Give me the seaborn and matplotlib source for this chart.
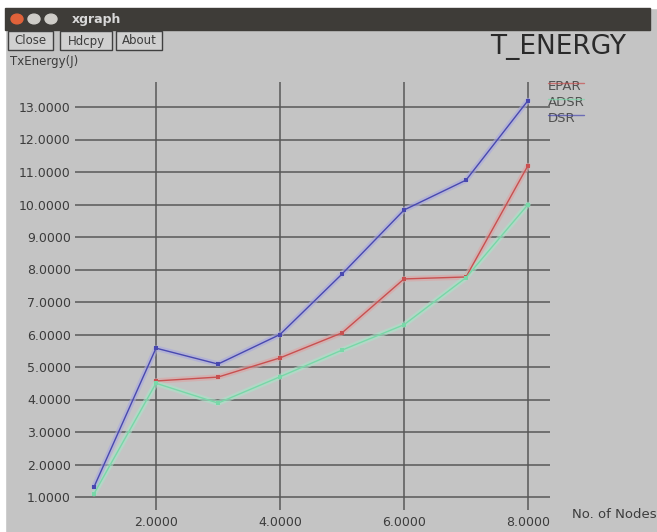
"""
xgraph-style T_ENERGY plot: energy vs number of nodes for EPAR, ADSR, DSR.
"""
import numpy as np
import pandas as pd
import matplotlib
matplotlib.use("Agg")
import matplotlib.pyplot as plt
from matplotlib.patches import Rectangle, Circle
from matplotlib.lines import Line2D
import seaborn as sns

# data
nodes = [1, 2, 3, 4, 5, 6, 7, 8]
epar = [None, 4.57, 4.69, 5.28, 6.05, 7.71, 7.77, 11.2]
adsr = [1.1, 4.5, 3.89, 4.7, 5.52, 6.3, 7.75, 10.0]
dsr = [1.31, 5.58, 5.09, 6.0, 7.86, 9.83, 10.75, 13.2]
series_names = ["EPAR", "ADSR", "DSR"]
y_ticks = [1, 2, 3, 4, 5, 6, 7, 8, 9, 10, 11, 12, 13]
x_ticks = [2, 4, 6, 8]

W, H = 657, 532
BG = "#c4c4c4"
GRID = "#585858"
TXT = "#3c3c3c"
line_colors = {"EPAR": "#c85050", "ADSR": "#78d8a8", "DSR": "#4848b0"}
halo_colors = {"EPAR": "#dca4a4", "ADSR": "#a8e4c8", "DSR": "#a8a8e0"}


def fx(px):
    return px / W


def fy(py):
    return 1 - py / H


rows = []
for name, vals in zip(series_names, [epar, adsr, dsr]):
    for n, v in zip(nodes, vals):
        if v is not None:
            rows.append({"nodes": n, "energy": v, "series": name})
df = pd.DataFrame(rows)

sns.set_style("white")
plt.rcParams["font.family"] = ["DejaVu Sans"]

fig = plt.figure(figsize=(W / 100, H / 100), dpi=100)
fig.patch.set_facecolor(BG)

# window chrome: white page strip, dark title bar
fig.add_artist(Rectangle((0, fy(8)), 1, 8 / H, transform=fig.transFigure,
                         color="white", zorder=0))
fig.add_artist(Rectangle((0, 0), fx(5), 1, transform=fig.transFigure,
                         color="white", zorder=0))
fig.add_artist(Rectangle((fx(5), fy(30)), fx(645), 22 / H, transform=fig.transFigure,
                         color="#3e3c38", zorder=1))
for cx, col in [(17, "#e0623a"), (34, "#cfcdc8"), (51, "#cfcdc8")]:
    fig.add_artist(Circle((fx(cx), fy(19)), 6 / W, transform=fig.transFigure,
                          color=col, zorder=2))
fig.text(fx(72), fy(19), "xgraph", color="#d8d8d8", fontsize=9,
         fontweight="bold", va="center", ha="left")

# buttons
for label, x0, x1 in [("Close", 8, 53), ("Hdcpy", 60, 112), ("About", 116, 162)]:
    fig.add_artist(Rectangle((fx(x0), fy(50)), fx(x1 - x0), 19 / H,
                             transform=fig.transFigure, facecolor="#d0d0d0",
                             edgecolor="#404040", lw=1, zorder=2))
    fig.text(fx((x0 + x1) / 2), fy(41), label, fontsize=8.5, color=TXT,
             ha="center", va="center", zorder=3)

fig.text(fx(10), fy(62), "TxEnergy(J)", fontsize=8.5, color=TXT,
         ha="left", va="center")
fig.text(fx(626), fy(47), "T_ENERGY", fontsize=19, color="#2a2a2a",
         ha="right", va="center")

# plot area
ax = fig.add_axes([fx(75), fy(510), fx(475), (510 - 82) / H])
ax.set_facecolor(BG)
ax.set_axisbelow(True)

palette_halo = [halo_colors[s] for s in series_names]
palette_line = [line_colors[s] for s in series_names]
sns.lineplot(data=df, x="nodes", y="energy", hue="series",
             hue_order=series_names, palette=palette_halo, lw=4, alpha=0.6,
             legend=False, ax=ax, zorder=2)
sns.lineplot(data=df, x="nodes", y="energy", hue="series",
             hue_order=series_names, palette=palette_line, lw=1,
             marker="s", markersize=3.5, markeredgewidth=0,
             legend=False, ax=ax, zorder=3)

x0 = 1 + (75 - 94) / 62
x1 = 1 + (550 - 94) / 62
ax.set_xlim(x0, x1)
ax.set_ylim(1 - 13 / 32.5, 1 + (497 - 82) / 32.5)
ax.set_xticks(x_ticks)
ax.set_yticks(y_ticks)
ax.set_xticklabels([f"{v:.4f}" for v in x_ticks], fontsize=9, color=TXT)
ax.set_yticklabels([f"{v:.4f}" for v in y_ticks], fontsize=9, color=TXT)
ax.tick_params(axis="both", length=0)
ax.tick_params(axis="y", pad=3)
ax.tick_params(axis="x", pad=4)
ax.grid(True, color=GRID, lw=1.1)
ax.set_xlabel("")
ax.set_ylabel("")
for s in ax.spines.values():
    s.set_visible(False)

fig.text(fx(572), fy(514), "No. of Nodes", fontsize=9.5, color=TXT,
         ha="left", va="center")

# xgraph legend: label with a short coloured line across its top
for i, name in enumerate(series_names):
    yc = 87 + i * 16
    fig.text(fx(548), fy(yc), name, fontsize=9.5, color="#505050",
             ha="left", va="center", zorder=4)
    fig.add_artist(Line2D([fx(548), fx(584)], [fy(yc - 4), fy(yc - 4)],
                          transform=fig.transFigure, color=line_colors[name],
                          lw=1, alpha=0.7, zorder=5))

fig.savefig("out.png", dpi=100, facecolor=fig.get_facecolor())
